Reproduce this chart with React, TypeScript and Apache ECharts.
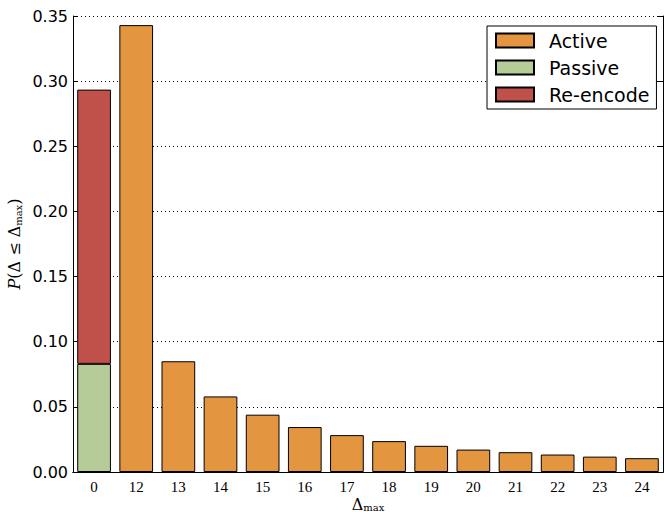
import React, { useEffect, useRef } from "react";
import * as echarts from "echarts";

const categories = ["0", "12", "13", "14", "15", "16", "17", "18", "19", "20", "21", "22", "23", "24"];
const activeValues: (number | null)[] = [null, 0.343, 0.085, 0.058, 0.044, 0.0345, 0.0283, 0.0237, 0.0201, 0.0172, 0.0152, 0.0134, 0.0118, 0.0106];
const passiveValues: (number | null)[] = [0.083, null, null, null, null, null, null, null, null, null, null, null, null, null];
const reencodeValues: (number | null)[] = [0.2105, null, null, null, null, null, null, null, null, null, null, null, null, null];
const yTicks = { min: 0, max: 0.35, interval: 0.05 };

export default function App() {
  const ref = useRef<HTMLDivElement>(null);
  useEffect(() => {
    if (!ref.current) return;
    const chart = echarts.init(ref.current, null, { renderer: "svg" });
    const barStyle = (color: string) => ({ color, borderColor: "#000", borderWidth: 1 });
    const tickStyle = { inside: true, length: 5, lineStyle: { color: "#000", width: 1 } };
    chart.setOption({
      animation: false,
      backgroundColor: "#fff",
      grid: { left: 73, right: 2, top: 16, bottom: 40, containLabel: false, outerBoundsMode: "none" },
      legend: {
        orient: "vertical",
        left: 487,
        top: 26,
        padding: [5, 7, 5, 8],
        itemWidth: 38,
        itemHeight: 14,
        itemGap: 8,
        backgroundColor: "#fff",
        borderColor: "#000",
        borderWidth: 1,
        borderRadius: 0,
        icon: "rect",
        textStyle: { fontFamily: "DejaVu Sans", fontSize: 19, color: "#000", padding: [0, 0, 0, 10] },
        data: ["Active", "Passive", "Re-encode"],
      },
      xAxis: [
        {
          type: "category",
          data: categories,
          position: "bottom",
          axisLine: { show: true, lineStyle: { color: "#000", width: 1 } },
          axisTick: { ...tickStyle, alignWithLabel: true },
          axisLabel: { fontFamily: "Liberation Serif", fontSize: 15, color: "#000", margin: 7 },
          name: "{d|Δ}{s|max}",
          nameLocation: "middle",
          nameGap: 24,
          nameMoveOverlap: false,
          nameTextStyle: {
            rich: {
              d: { fontFamily: "DejaVu Serif", fontSize: 16, color: "#000" },
              s: { fontFamily: "DejaVu Serif", fontSize: 10, color: "#000", verticalAlign: "bottom", padding: [5, 0, 0, 0] },
            },
          },
        },
        {
          type: "category",
          data: categories,
          position: "top",
          axisLine: { show: true, lineStyle: { color: "#000", width: 1 } },
          axisTick: { ...tickStyle, alignWithLabel: true },
          axisLabel: { show: false },
        },
      ],
      yAxis: [
        {
          type: "value",
          ...yTicks,
          position: "left",
          axisLine: { show: true, lineStyle: { color: "#000", width: 1 } },
          axisTick: { show: true, ...tickStyle },
          axisLabel: { fontFamily: "DejaVu Sans", fontSize: 16, color: "#000", margin: 5, formatter: (v: number) => v.toFixed(2) },
          splitLine: { show: true, lineStyle: { color: "#000", width: 1, type: [1, 3] } },
          name: "{p|P}{t|(Δ ≤ Δ}{s|max}{t|)}",
          nameLocation: "middle",
          nameRotate: 90,
          nameGap: 50,
          nameMoveOverlap: false,
          nameTextStyle: {
            rich: {
              p: { fontFamily: "DejaVu Serif", fontStyle: "italic", fontSize: 16, color: "#000" },
              t: { fontFamily: "DejaVu Serif", fontSize: 16, color: "#000" },
              s: { fontFamily: "DejaVu Serif", fontSize: 10, color: "#000", verticalAlign: "bottom", padding: [8, 0, 0, 0] },
            },
          },
        },
        {
          type: "value",
          ...yTicks,
          position: "right",
          axisLine: { show: true, lineStyle: { color: "#000", width: 1 } },
          axisTick: { show: true, ...tickStyle },
          axisLabel: { show: false },
          splitLine: { show: false },
        },
      ],
      series: [
        { name: "Active", type: "bar", stack: "s", data: activeValues, barWidth: "80%", itemStyle: barStyle("#E3953F") },
        { name: "Passive", type: "bar", stack: "s", data: passiveValues, barWidth: "80%", itemStyle: barStyle("#B5CC98") },
        { name: "Re-encode", type: "bar", stack: "s", data: reencodeValues, barWidth: "80%", itemStyle: barStyle("#C0504A") },
      ],
    });
    return () => chart.dispose();
  }, []);
  return <div ref={ref} style={{ width: 665, height: 512, position: "absolute", left: 0, top: 0 }} />;
}
